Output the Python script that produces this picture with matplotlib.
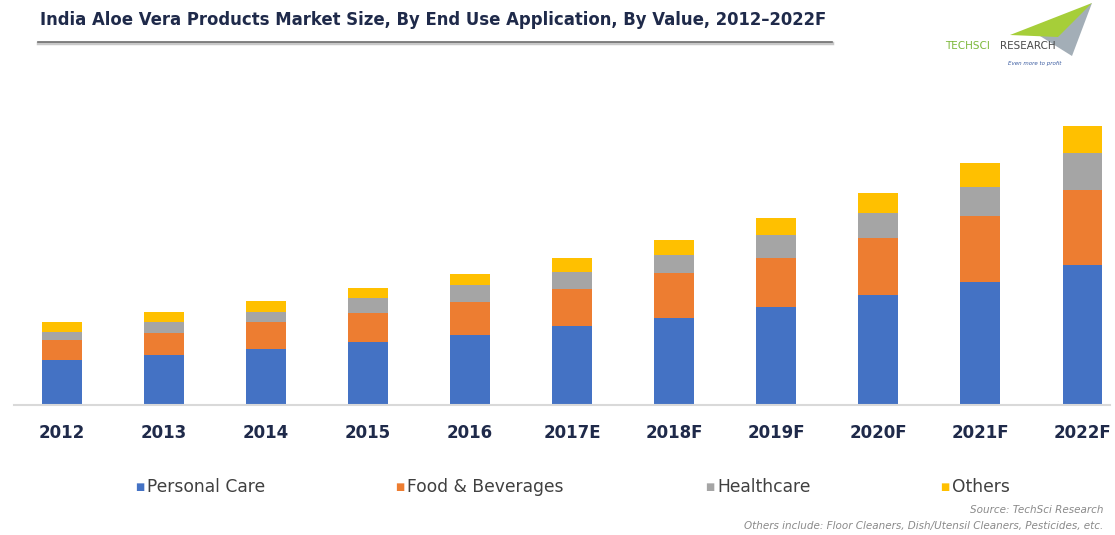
import matplotlib.pyplot as plt
from matplotlib.patches import Polygon
from matplotlib.lines import Line2D
import numpy as np

years = ["2012", "2013", "2014", "2015", "2016", "2017E",
         "2018F", "2019F", "2020F", "2021F", "2022F"]
series_names = ["Personal Care", "Food & Beverages", "Healthcare", "Others"]
personal_care = [45, 50, 56, 63, 70, 79, 87, 98, 110, 123, 140]
food_beverages = [20, 22, 27, 29, 33, 37, 45, 49, 57, 66, 75]
healthcare = [8, 11, 10, 15, 17, 17, 18, 23, 25, 29, 37]
others = [10, 10, 11, 10, 11, 14, 15, 17, 20, 24, 27]

colors = ["#4472C4", "#ED7D31", "#A5A5A5", "#FFC000"]
navy = "#1F2A4A"

W, H = 1115, 535
fig = plt.figure(figsize=(W / 100, H / 100), dpi=100)
fig.patch.set_facecolor("white")

# plot area: baseline at y=405 px, spans x 14..1110 px
ax = fig.add_axes([14 / W, (H - 405) / H, 1096 / W, 285 / H])
x = np.arange(len(years))
bottom = np.zeros(len(years))
for vals, c in zip([personal_care, food_beverages, healthcare, others], colors):
    ax.bar(x, vals, width=0.39, bottom=bottom, color=c, edgecolor="none", zorder=2)
    bottom += np.array(vals)

ax.set_xlim(-0.47, 10.27)
ax.set_ylim(0, 285)
ax.set_yticks([])
ax.set_xticks(x)
ax.set_xticklabels(years, fontsize=12, fontweight="bold", color=navy)
ax.tick_params(axis="x", length=0, pad=14)
for s in ["top", "right", "left"]:
    ax.spines[s].set_visible(False)
ax.spines["bottom"].set_color("#D9D9D9")
ax.spines["bottom"].set_linewidth(1.5)
ax.set_facecolor("none")

# title with shadowed underline
fig.text(40 / W, 1 - 20 / H, "India Aloe Vera Products Market Size, By End Use Application, By Value, 2012\u20132022F",
         fontsize=11.9, fontweight="bold", color=navy, va="center", ha="left")
fig.add_artist(Line2D([38 / W, 832 / W], [1 - 43 / H, 1 - 43 / H], color="#C8C8C8", lw=2.5))
fig.add_artist(Line2D([38 / W, 832 / W], [1 - 41.5 / H, 1 - 41.5 / H], color="#707070", lw=1.2))


def px(xp, yp):
    return (xp / W, 1 - yp / H)


# logo: paper-plane swoosh plus wordmark
fig.add_artist(Polygon([px(1040, 36), px(1092, 3), px(1072, 56)], closed=True,
                       facecolor="#A3AEB7", edgecolor="none", transform=fig.transFigure))
fig.add_artist(Polygon([px(1010, 35), px(1092, 3), px(1058, 37)], closed=True,
                       facecolor="#A6CE39", edgecolor="none", transform=fig.transFigure))
fig.text(945 / W, 1 - 46 / H, "TECHSCI", fontsize=7.5, color="#7DB83A", va="center", ha="left")
fig.text(1000 / W, 1 - 46 / H, "RESEARCH", fontsize=7.5, color="#4A4A4A", va="center", ha="left")
fig.text(1008 / W, 1 - 64 / H, "Even more to profit", fontsize=4, style="italic",
         color="#3A5BA0", va="center", ha="left")

# legend row
legend_x = [140, 400, 710, 945]
for xp, name, c in zip(legend_x, series_names, colors):
    fig.text(xp / W, 1 - 487 / H, "\u25A0", fontsize=7, color=c, va="center", ha="center")
    fig.text((xp + 7) / W, 1 - 487 / H, name, fontsize=12.3, color="#404040", va="center", ha="left")

fig.text(1103 / W, 1 - 510 / H, "Source: TechSci Research", fontsize=7.5, style="italic",
         color="#8A8A8A", va="center", ha="right")
fig.text(1103 / W, 1 - 526 / H, "Others include: Floor Cleaners, Dish/Utensil Cleaners, Pesticides, etc.",
         fontsize=7.5, style="italic", color="#8A8A8A", va="center", ha="right")

fig.savefig("out.png", dpi=100, facecolor="white")
